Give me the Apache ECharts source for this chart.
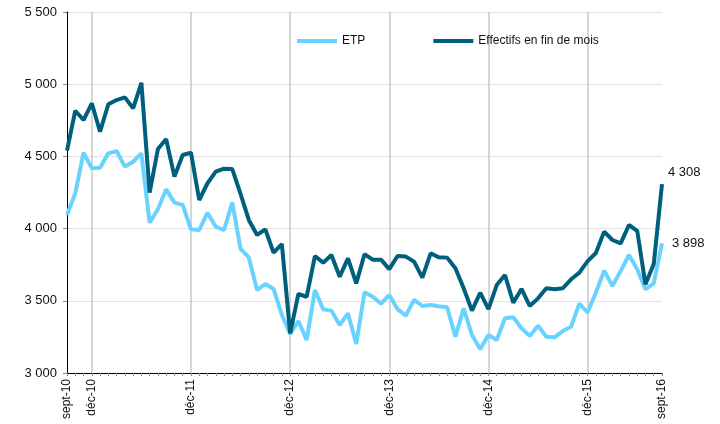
<!DOCTYPE html>
<html><head><meta charset="utf-8">
<script src="https://cdn.jsdelivr.net/npm/echarts@6/dist/echarts.min.js"></script>
<style>html,body{margin:0;padding:0;background:#fff}#c{width:720px;height:424px}</style>
</head><body><div id="c"></div>
<script>
const months = ["janv","févr","mars","avr","mai","juin","juil","août","sept","oct","nov","déc"];
const categories = [];
for (let y = 10; y <= 16; y++) {
  for (let m = 0; m < 12; m++) {
    if (y === 10 && m < 8) continue;
    if (y === 16 && m > 8) continue;
    categories.push(months[m] + "-" + y);
  }
}
const labelledCategories = ["sept-10","déc-10","déc-11","déc-12","déc-13","déc-14","déc-15","sept-16"];
const gridCategories = ["déc-10","déc-11","déc-12","déc-13","déc-14","déc-15"];
const etp = [4094,4244,4526,4418,4422,4521,4537,4429,4463,4521,4041,4134,4272,4180,4164,3995,3990,4110,4013,3990,4181,3860,3800,3575,3616,3582,3402,3270,3360,3229,3575,3441,3432,3332,3413,3201,3559,3528,3480,3540,3442,3397,3506,3464,3471,3462,3455,3251,3448,3263,3164,3263,3229,3379,3386,3310,3257,3328,3251,3247,3291,3321,3480,3419,3557,3708,3602,3706,3817,3718,3580,3621,3898];
const effectifs = [4540,4816,4752,4868,4671,4861,4890,4909,4833,5010,4249,4551,4620,4360,4510,4526,4198,4314,4394,4415,4412,4240,4060,3956,3995,3833,3893,3275,3547,3528,3810,3764,3817,3667,3794,3621,3822,3785,3785,3719,3810,3806,3771,3660,3829,3801,3799,3725,3587,3432,3556,3443,3609,3679,3487,3582,3464,3517,3587,3580,3587,3649,3695,3775,3831,3979,3921,3898,4025,3985,3614,3755,4308];
const yTicks = {min:3000, max:5500, interval:500};

const fmt = v => String(Math.round(v)).replace(/\B(?=(\d{3})+(?!\d))/g, " ");
const chart = echarts.init(document.getElementById('c'), null, {renderer:'canvas'});
chart.setOption({
  animation:false,
  textStyle:{fontFamily:"Liberation Sans, Arial, sans-serif"},
  grid:{left:67, right:58, top:12, bottom:51, containLabel:false},
  legend:{
    left:292, top:30, itemWidth:40, itemHeight:4, itemGap:68, icon:'rect',
    textStyle:{fontSize:12, color:'#111'},
    data:['ETP','Effectifs en fin de mois']
  },
  xAxis:{
    type:'category', data:categories, boundaryGap:false,
    axisLine:{lineStyle:{color:'#000', width:1}},
    axisTick:{show:true, interval:0, length:3, lineStyle:{color:'#888'}},
    axisLabel:{
      interval:(i, v) => labelledCategories.includes(v),
      rotate:90, fontSize:12, color:'#111', margin:6
    },
    splitLine:{show:true, interval:(i, v) => gridCategories.includes(v), lineStyle:{color:'#c8c8c8', width:1.5}}
  },
  yAxis:{
    type:'value', min:yTicks.min, max:yTicks.max, interval:yTicks.interval,
    axisLine:{show:true, lineStyle:{color:'#000', width:1}},
    axisTick:{show:true, length:4, lineStyle:{color:'#888'}},
    axisLabel:{formatter:fmt, fontSize:13, color:'#111', margin:10},
    splitLine:{lineStyle:{color:'#e2e2e2', width:1}}
  },
  series:[
    {name:'ETP', type:'line', data:etp, showSymbol:false, symbol:'none',
     lineStyle:{color:'#6ad2ff', width:4}, itemStyle:{color:'#6ad2ff'},
     endLabel:{show:true, formatter:p => fmt(p.value), fontSize:13, color:'#111', offset:[2,0]}},
    {name:'Effectifs en fin de mois', type:'line', data:effectifs, showSymbol:false, symbol:'none',
     lineStyle:{color:'#005f7d', width:4}, itemStyle:{color:'#005f7d'},
     endLabel:{show:true, formatter:p => fmt(p.value), fontSize:13, color:'#111', offset:[-2,-12]}}
  ]
});
</script></body></html>
